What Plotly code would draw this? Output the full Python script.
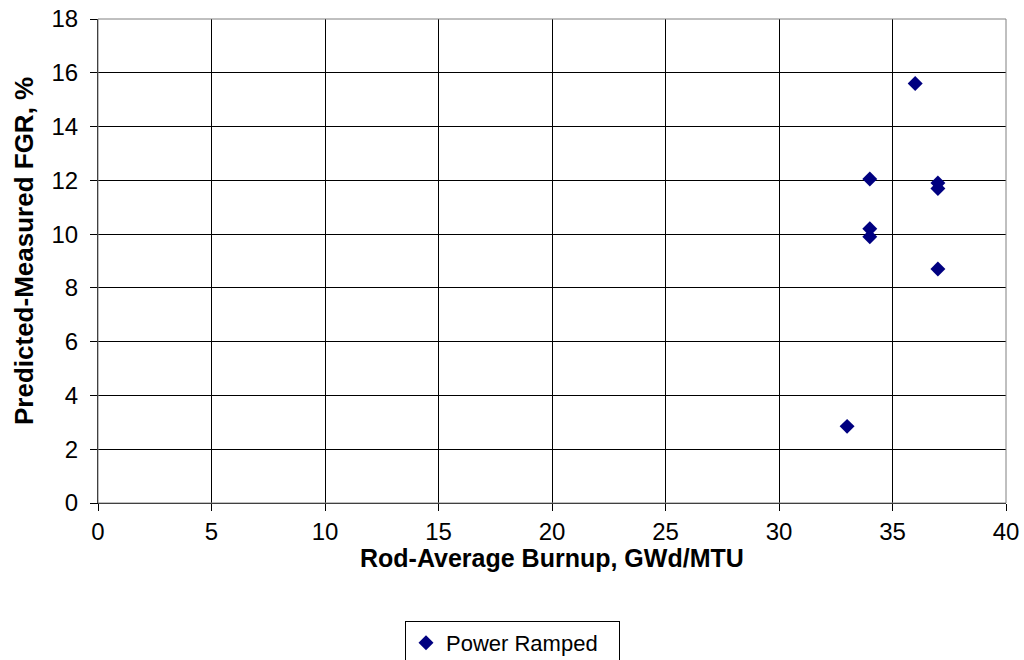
import plotly.graph_objects as go

burnup = [33, 34, 34, 34, 36, 37, 37, 37]
fgr_diff = [2.85, 12.05, 10.2, 9.9, 15.6, 11.9, 11.7, 8.7]
series_name = "Power Ramped"
x_ticks = [0, 5, 10, 15, 20, 25, 30, 35, 40]
y_ticks = [0, 2, 4, 6, 8, 10, 12, 14, 16, 18]
x_title = "Rod-Average Burnup, GWd/MTU"
y_title = "Predicted-Measured FGR, %"

W, H = 1024, 660

fig = go.Figure()
fig.add_trace(go.Scatter(
    x=burnup, y=fgr_diff, mode="markers", name=series_name,
    marker=dict(symbol="diamond", size=11.5, color="#000080", line=dict(width=0)),
))

fam = "Liberation Sans, Arial"
fig.update_layout(
    width=W, height=H,
    margin=dict(l=98, r=18, t=19, b=157, autoexpand=False),
    paper_bgcolor="white", plot_bgcolor="white",
    font=dict(family=fam, size=24, color="black"),
    showlegend=True,
    legend=dict(
        orientation="h", xref="container", yref="container",
        x=405 / W, xanchor="left", y=(H - 621) / H, yanchor="top",
        bordercolor="black", borderwidth=1,
        font=dict(family=fam, size=22, color="black"),
        itemwidth=30, entrywidth=168,
    ),
    xaxis=dict(
        range=[0, 40], tickvals=x_ticks, showgrid=True, gridcolor="black", gridwidth=1,
        showline=True, linecolor="black", linewidth=1, automargin=False,
        ticks="outside", ticklen=7, tickcolor="black", zeroline=False,
        ticklabeloverflow="allow",
        tickfont=dict(family=fam, size=24, color="black"),
    ),
    yaxis=dict(
        range=[0, 18], tickvals=y_ticks, showgrid=True, gridcolor="black", gridwidth=1,
        showline=True, linecolor="black", linewidth=1, automargin=False,
        ticks="outside", ticklen=7, tickcolor="black", zeroline=False,
        ticklabelstandoff=7, ticklabeloverflow="allow",
        tickfont=dict(family=fam, size=24, color="black"),
    ),
    shapes=[dict(type="rect", xref="paper", yref="paper", x0=0, y0=0, x1=1, y1=1,
                 line=dict(color="#808080", width=1), layer="above")],
    annotations=[
        dict(text="<b>" + x_title + "</b>", xref="paper", yref="paper", x=0.5, y=0,
             xanchor="center", yanchor="middle", yshift=-55, showarrow=False,
             font=dict(family=fam, size=25, color="black")),
        dict(text="<b>" + y_title + "</b>", xref="paper", yref="paper", x=0, y=0.5,
             xanchor="center", yanchor="middle", xshift=-74, yshift=10, textangle=-90,
             showarrow=False, font=dict(family=fam, size=26, color="black")),
    ],
)

fig.write_html("out.html", config={"displayModeBar": False},
               post_script="document.body.style.margin='0';")
